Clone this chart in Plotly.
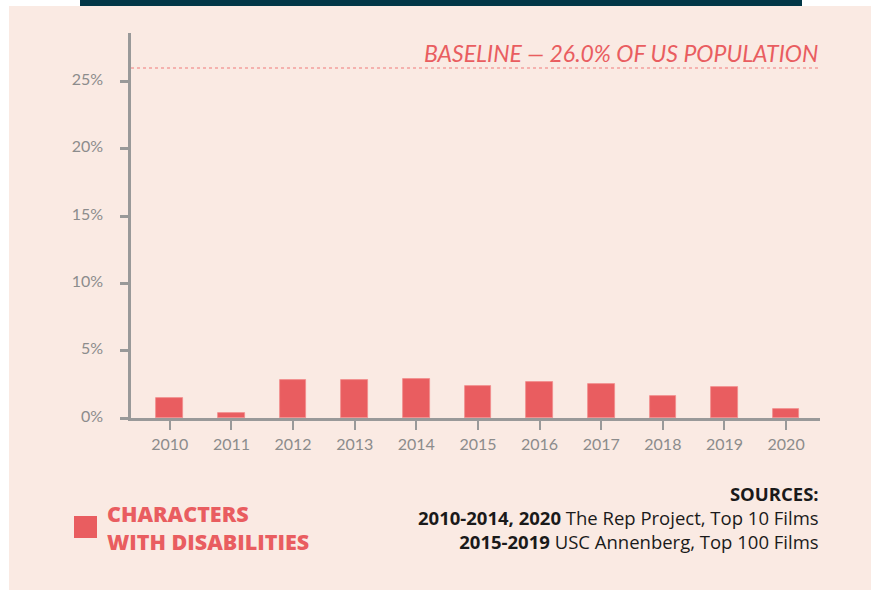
import plotly.graph_objects as go

years = [2010, 2011, 2012, 2013, 2014, 2015, 2016, 2017, 2018, 2019, 2020]
pct_disabilities = [1.5, 0.4, 2.8, 2.8, 2.9, 2.4, 2.7, 2.5, 1.6, 2.3, 0.7]
baseline_pct = 26.0
y_tickvals = [0, 5, 10, 15, 20, 25]
y_ticktext = ["0%", "5%", "10%", "15%", "20%", "25%"]

BAR = "#E95D60"
BG = "#FAEAE3"
GREY = "#999999"
TXT = "#8C8C8C"
FONT = "Lato"
SRC_FONT = "Open Sans"

W, H = 875, 590
ML, MR, MT, MB = 131, 55, 33, 172
PW = W - ML - MR
PH = H - MT - MB


def px(x):
    return (x - ML) / PW


def py(y):
    return (H - MB - y) / PH


fig = go.Figure()
fig.add_trace(go.Bar(
    x=years, y=pct_disabilities, width=0.433,
    marker=dict(color=BAR, line=dict(color="#F08C8C", width=0.8)),
    showlegend=False, hoverinfo="skip",
))

shapes = [
    dict(type="rect", xref="paper", yref="paper", x0=px(9), x1=px(871), y0=py(592), y1=py(6),
         fillcolor=BG, line=dict(width=0), layer="below"),
    dict(type="rect", xref="paper", yref="paper", x0=px(80), x1=px(802), y0=py(6), y1=py(-2),
         fillcolor="#023747", line=dict(width=0), layer="below"),
    dict(type="line", xref="paper", yref="y", x0=0, x1=1, y0=baseline_pct, y1=baseline_pct,
         line=dict(color="#F07A7A", width=1, dash="3px,3px")),
    dict(type="rect", xref="paper", yref="paper", x0=px(74), x1=px(97), y0=py(538), y1=py(516),
         fillcolor=BAR, line=dict(width=0)),
]

annotations = [
    dict(text="<i>BASELINE — 26.0% OF US POPULATION</i>", x=1.0, y=py(53), xref="paper", yref="paper",
         xanchor="right", yanchor="middle", showarrow=False,
         font=dict(family=FONT, size=23, color=BAR)),
    dict(text="CHARACTERS<br>WITH DISABILITIES", x=px(105), y=py(527),
         xref="paper", yref="paper", xanchor="left", yanchor="middle", align="left",
         showarrow=False, font=dict(family=SRC_FONT, size=21.5, color=BAR, weight=800)),
    dict(text="<b>SOURCES:</b><br><b>2010-2014, 2020</b> The Rep Project, Top 10 Films"
              "<br><b>2015-2019</b> USC Annenberg, Top 100 Films",
         x=px(821), y=py(517.5), xref="paper", yref="paper",
         xanchor="right", yanchor="middle", align="right", showarrow=False,
         font=dict(family=SRC_FONT, size=18.5, color="#1a1a1a")),
]

fig.update_layout(
    width=W, height=H,
    margin=dict(l=ML, r=MR, t=MT, b=MB, pad=0),
    paper_bgcolor="white",
    plot_bgcolor="rgba(0,0,0,0)",
    shapes=shapes,
    annotations=annotations,
    bargap=0,
    font=dict(family=FONT, color=TXT),
)
fig.update_xaxes(
    range=[2009.37, 2020.55], tickvals=years, ticktext=[str(y) for y in years],
    showline=True, linecolor=GREY, linewidth=2.5,
    ticks="outside", ticklen=9, tickwidth=2, tickcolor=GREY,
    ticklabelstandoff=1,
    tickfont=dict(family=FONT, size=16, color=TXT),
    showgrid=False, zeroline=False, fixedrange=True,
)
fig.update_yaxes(
    range=[0, 28.6], tickvals=y_tickvals, ticktext=y_ticktext,
    showline=True, linecolor=GREY, linewidth=2.5,
    ticks="outside", ticklen=8, tickwidth=2.5, tickcolor=GREY,
    ticklabelstandoff=14, ticklabelshift=-2,
    tickfont=dict(family=FONT, size=16, color=TXT),
    showgrid=False, zeroline=False, fixedrange=True,
)

fig.write_html(
    "out.html",
    config={"displayModeBar": False},
    post_script="document.body.style.margin='0px';document.body.style.padding='0px';",
)
